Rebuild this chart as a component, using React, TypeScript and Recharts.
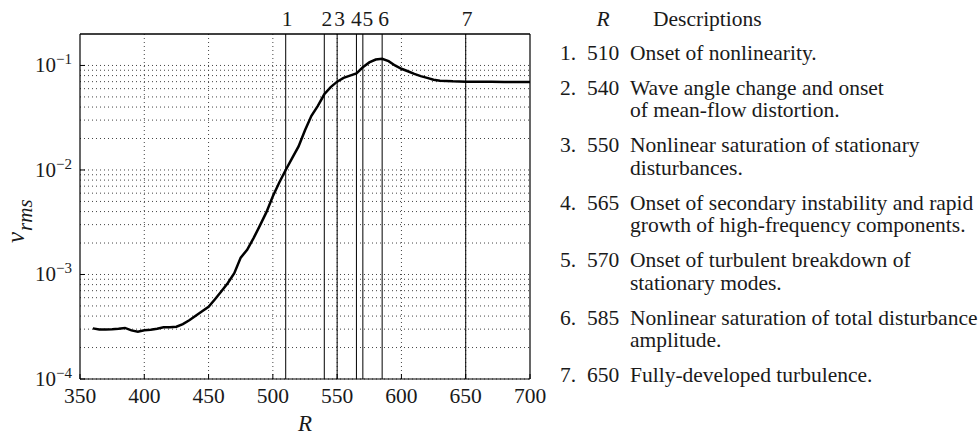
import React from 'react';
import { LineChart, Line, XAxis, YAxis, ReferenceLine } from 'recharts';

// ---- data ----
const reynolds = [360, 365, 370, 375, 380, 385, 390, 395, 400, 405, 410, 415, 420, 425, 430, 435, 440, 445, 450, 455, 460, 465, 470, 475, 480, 485, 490, 495, 500, 505, 510, 515, 520, 525, 530, 535, 540, 545, 550, 555, 560, 565, 570, 575, 580, 585, 590, 595, 600, 605, 610, 615, 620, 625, 630, 640, 650, 660, 670, 680, 690, 700];
const vrms = [3.05e-4, 2.97e-4, 2.97e-4, 2.99e-4, 3.02e-4, 3.08e-4, 2.92e-4, 2.84e-4, 2.93e-4, 2.96e-4, 3.02e-4, 3.12e-4, 3.12e-4, 3.16e-4, 3.35e-4, 3.65e-4, 4.03e-4, 4.45e-4, 4.9e-4, 5.8e-4, 6.9e-4, 8.3e-4, 1.03e-3, 1.45e-3, 1.72e-3, 2.23e-3, 2.95e-3, 3.95e-3, 5.6e-3, 7.6e-3, 1.0e-2, 1.3e-2, 1.68e-2, 2.4e-2, 3.3e-2, 4.1e-2, 5.3e-2, 6.2e-2, 7.0e-2, 7.6e-2, 8.0e-2, 8.4e-2, 9.6e-2, 0.107, 0.114, 0.116, 0.110, 0.100, 0.093, 0.088, 0.083, 0.079, 0.076, 0.073, 0.0715, 0.0705, 0.070, 0.0698, 0.0697, 0.0696, 0.0695, 0.0695];

const xTicks = [350, 400, 450, 500, 550, 600, 650, 700];
const yTicks = [1e-4, 1e-3, 1e-2, 1e-1];
const xDomain = [350, 700];
const yDomain = [1e-4, 0.2];
const xGrid = [400, 450, 500, 550, 600, 650];
const yGrid = [
  1e-4, 2e-4, 3e-4, 4e-4, 5e-4, 6e-4, 7e-4, 8e-4, 9e-4,
  1e-3, 2e-3, 3e-3, 4e-3, 5e-3, 6e-3, 7e-3, 8e-3, 9e-3,
  1e-2, 2e-2, 3e-2, 4e-2, 5e-2, 6e-2, 7e-2, 8e-2, 9e-2,
  1e-1,
];

const eventIds = ['1', '2', '3', '4', '5', '6', '7'];
const eventR = [510, 540, 550, 565, 570, 585, 650];
const eventDescriptions = [
  ['Onset of nonlinearity.'],
  ['Wave angle change and onset', 'of mean-flow distortion.'],
  ['Nonlinear saturation of stationary', 'disturbances.'],
  ['Onset of secondary instability and rapid', 'growth of high-frequency components.'],
  ['Onset of turbulent breakdown of', 'stationary modes.'],
  ['Nonlinear saturation of total disturbance', 'amplitude.'],
  ['Fully-developed turbulence.'],
];

const data = reynolds.map((r, i) => ({ R: r, v: vrms[i] }));

const FONT = '"Liberation Serif", "DejaVu Serif", serif';
const INK = '#1a1a1a';
const FS = 21.5;

const YTick = (props: any) => {
  const { x, y, payload } = props;
  const exp = Math.round(Math.log10(payload.value));
  return (
    <text x={x} y={y} textAnchor="end" fontFamily={FONT} fontSize={21} fill={INK} dy={7}>
      10
      <tspan fontSize={15} dy={-8}>{'\u2212' + Math.abs(exp)}</tspan>
    </text>
  );
};

const XTick = (props: any) => {
  const { x, y, payload } = props;
  return (
    <text x={x} y={y} textAnchor="middle" fontFamily={FONT} fontSize={FS} fill={INK} dy={15}>
      {payload.value}
    </text>
  );
};

const XLabel = (props: any) => {
  const { viewBox } = props;
  const cx = viewBox.x + viewBox.width / 2;
  return (
    <text x={cx} y={431} textAnchor="middle" fontFamily={FONT} fontStyle="italic" fontSize={23} fill={INK}>
      R
    </text>
  );
};

const YLabel = () => {
  return (
    <text transform="translate(24, 243) rotate(-90)" fontFamily={FONT} fontStyle="italic" fill={INK}>
      <tspan fontSize={25}>v</tspan>
      <tspan fontSize={21} dy={8} dx={1}>rms</tspan>
    </text>
  );
};

const makeEventLabel = (text: string, shift: number) => (props: any) => {
  const { viewBox } = props;
  return (
    <text x={viewBox.x + shift} y={viewBox.y - 8} textAnchor="middle" fontFamily={FONT} fontSize={FS} fill={INK}>
      {text}
    </text>
  );
};

const labelShift = [1.5, 2.5, 2.5, 0, 5, 1.5, 1.5];

const Descriptions = () => {
  const rows: React.ReactNode[] = [];
  let y = 60;
  eventDescriptions.forEach((lines, i) => {
    rows.push(
      <text key={'n' + i} x={560} y={y} fontFamily={FONT} fontSize={FS} fill={INK}>{eventIds[i] + '.'}</text>,
      <text key={'r' + i} x={587} y={y} fontFamily={FONT} fontSize={FS} fill={INK}>{eventR[i]}</text>,
    );
    lines.forEach((line, j) => {
      rows.push(
        <text key={'d' + i + '-' + j} x={630} y={y + j * 22.4} fontFamily={FONT} fontSize={FS} fill={INK}>{line}</text>,
      );
    });
    y += lines.length * 22.4 + 12.6;
  });
  return (
    <svg width={979} height={435} style={{ position: 'absolute', left: 0, top: 0, pointerEvents: 'none' }}>
      <text x={603} y={26} textAnchor="middle" fontFamily={FONT} fontStyle="italic" fontSize={FS} fill={INK}>R</text>
      <text x={653} y={26} fontFamily={FONT} fontSize={FS} fill={INK}>Descriptions</text>
      {rows}
    </svg>
  );
};

export default function App() {
  return (
    <div style={{ position: 'absolute', left: 0, top: 0, width: 979, height: 435, background: '#fff' }}>
      <LineChart width={979} height={435} data={data} margin={{ top: 34, right: 449, bottom: 0, left: 20 }}>
        <XAxis
          dataKey="R"
          type="number"
          domain={xDomain}
          ticks={xTicks}
          allowDataOverflow
          tickLine={{ stroke: '#000', strokeWidth: 1 }}
          tickSize={-5}
          tickMargin={14}
          axisLine={{ stroke: '#000', strokeWidth: 1.2 }}
          tick={<XTick />}
          height={56}
          label={{ content: <XLabel /> }}
        />
        <YAxis
          type="number"
          scale="log"
          domain={yDomain}
          ticks={yTicks}
          allowDataOverflow
          tickLine={{ stroke: '#000', strokeWidth: 1 }}
          tickSize={-5}
          tickMargin={13}
          axisLine={{ stroke: '#000', strokeWidth: 1.2 }}
          tick={<YTick />}
          width={60}
          label={{ content: <YLabel /> }}
        />
        {yGrid.map((g) => (
          <ReferenceLine key={'yg' + g} y={g} stroke="#444" strokeWidth={1} strokeDasharray="1 3" />
        ))}
        {xGrid.map((g) => (
          <ReferenceLine key={'xg' + g} x={g} stroke="#444" strokeWidth={1} strokeDasharray="1 3" />
        ))}
        <ReferenceLine x={xDomain[1]} stroke="#000" strokeWidth={1.2} />
        <ReferenceLine y={yDomain[1]} stroke="#000" strokeWidth={1.5} />
        {eventR.map((r, i) => (
          <ReferenceLine
            key={'ev' + r}
            x={r}
            stroke="#000"
            strokeWidth={1}
            label={{ content: makeEventLabel(eventIds[i], labelShift[i]) }}
          />
        ))}
        <Line
          type="linear"
          dataKey="v"
          stroke="#000"
          strokeWidth={2.5}
          dot={false}
          isAnimationActive={false}
        />
      </LineChart>
      <Descriptions />
    </div>
  );
}
